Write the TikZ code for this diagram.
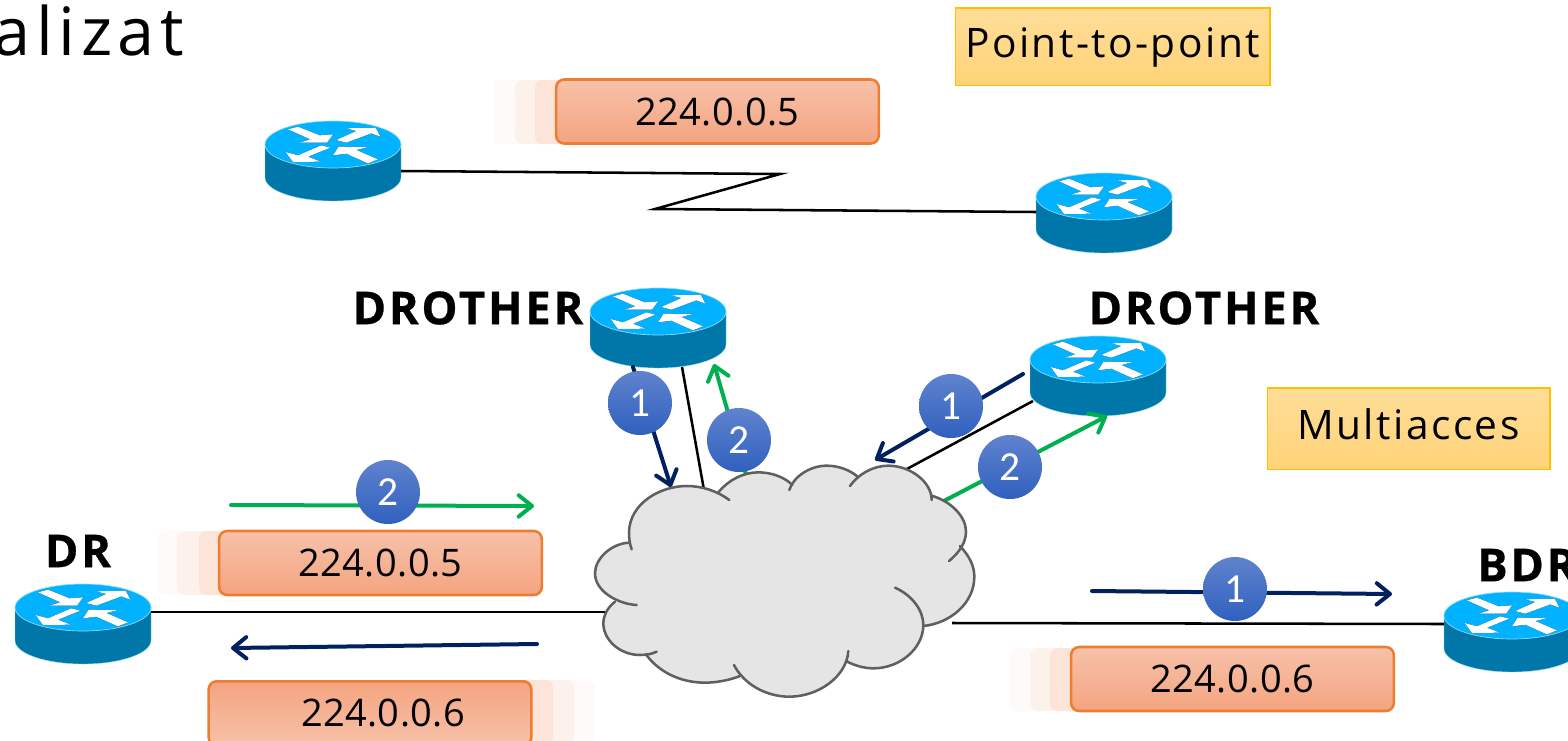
\documentclass[tikz,border=0pt]{standalone}
\usepackage{fontspec}
\setmainfont[LetterSpace=1]{Open Sans}
\newfontfamily\headfont[LetterSpace=6,BoldFeatures={FakeBold=.6}]{Open Sans}
\newfontfamily\titlefont[LetterSpace=8.5]{Open Sans}
\newfontfamily\modefont[LetterSpace=6]{Open Sans}
\newfontfamily\badgefont{Carlito}
\usetikzlibrary{arrows.meta}
\definecolor{rtop}{HTML}{00B2FF}
\definecolor{rbody}{HTML}{0077A8}
\definecolor{rrim}{HTML}{8FDCF5}
\definecolor{navyline}{HTML}{002060}
\definecolor{greenline}{HTML}{00B050}
\definecolor{orangeedge}{HTML}{ED7D31}
\definecolor{orangelight}{HTML}{F7C1A9}
\definecolor{orangedark}{HTML}{F4A480}
\definecolor{yellowedge}{HTML}{FFC000}
\definecolor{yellowtop}{HTML}{FFDD99}
\definecolor{yellowbot}{HTML}{FFD478}
\definecolor{badgetop}{HTML}{5F83CE}
\definecolor{badgebot}{HTML}{3060BE}
\definecolor{cloudfill}{HTML}{E5E5E5}
\definecolor{cloudedge}{HTML}{5F5F5F}
\tikzset{
  router/.style={inner sep=0pt,outer sep=0pt,minimum width=103pt,minimum height=61pt,
    path picture={
      \fill[rbody,draw=rrim,line width=.3pt] (-68,-16.5) -- (-68,16.5) arc[start angle=180,end angle=360,x radius=68,y radius=-23.5] -- (68,-16.5) -- cycle;
      \fill[rtop,draw=rrim,line width=.5pt] (0,-16.5) ellipse[x radius=68,y radius=23.5];
      \begin{scope}[x=.25pt,y=-.25pt]
        \foreach \poly in {
          {(-135,-95) -- (-105,-103) -- (-40,-77) -- (0,-80) -- (-18,-55) -- (-100,-55) -- (-68,-65)},
          {(10,-63) -- (70,-90) -- (40,-98) -- (128,-100) -- (142,-73) -- (115,-83) -- (40,-55)},
          {(-35,-47) -- (-8,-40) -- (-75,-13) -- (-37,2) -- (-120,3) -- (-142,-27) -- (-105,-17)},
          {(0,-17) -- (17,-43) -- (105,-42) -- (70,-33) -- (135,-5) -- (105,7) -- (40,-22)}}{
          \fill[black,yshift=.7pt,xshift=-.2pt] \poly -- cycle;
          \fill[white] \poly -- cycle;
        }
      \end{scope}
    }},
  link/.style={draw=black,line width=1.9pt},
  navyarrow/.style={draw=navyline,line width=3pt,line cap=round,-{Straight Barb[length=10pt,width=16pt,line width=3pt,round]}},
  greenarrow/.style={draw=greenline,line width=3pt,line cap=round,-{Straight Barb[length=10pt,width=16pt,line width=3pt,round]}},
  addrbox/.style={draw=orangeedge,line width=1.9pt,rounded corners=6pt,minimum width=242pt,minimum height=48pt,inner sep=0pt,
    top color=orangelight,bottom color=orangedark,font=\fontsize{28.5}{32}\selectfont,text=black},
  addrboxflip/.style={addrbox,top color=orangedark,bottom color=orangelight},
  ghost/.style={fill=orangedark,rounded corners=6pt},
  modebox/.style={draw=yellowedge,line width=1pt,inner sep=0pt,top color=yellowtop,bottom color=yellowbot,
    font=\modefont\fontsize{30.5}{34}\selectfont,text=black},
  badge/.style={circle,minimum size=48pt,inner sep=0pt,top color=badgetop,bottom color=badgebot,
    text=white,font=\badgefont\fontsize{31}{34}\selectfont},
  rolelabel/.style={inner sep=0pt,font=\headfont\bfseries\fontsize{34}{38}\selectfont,text=black},
  cloudline/.style={draw=cloudedge,line width=1.9pt,line cap=round}
}
\def\cloudA{(170,435) .. controls (115,432) and (45,395) .. (45,340) .. controls (45,295) and (95,250) .. (148,248)}
\def\cloudB{(155,268) .. controls (148,250) and (147,230) .. (147,215) .. controls (150,130) and (240,78) .. (320,78) .. controls (365,78) and (410,92) .. (448,120)}
\def\cloudC{(415,97) .. controls (445,60) and (490,37) .. (535,37) .. controls (575,37) and (615,52) .. (637,75)}
\def\cloudD{(628,90) .. controls (640,50) and (690,17) .. (740,17) .. controls (775,17) and (810,30) .. (833,50)}
\def\cloudE{(810,78) .. controls (835,42) and (880,17) .. (925,17) .. controls (990,17) and (1055,65) .. (1055,120)}
\def\cloudF{(1055,107) .. controls (1115,125) and (1158,170) .. (1158,215) .. controls (1158,250) and (1135,280) .. (1107,303)}
\def\cloudG{(1140,258) .. controls (1170,290) and (1183,320) .. (1183,350) .. controls (1183,430) and (1110,490) .. (1030,498)}
\def\cloudH{(945,383) .. controls (995,405) and (1030,450) .. (1030,495) .. controls (1030,565) and (960,625) .. (880,625) .. controls (850,625) and (820,615) .. (798,603)}
\def\cloudI{(805,573) .. controls (800,650) and (715,710) .. (628,710) .. controls (555,710) and (490,670) .. (462,615)}
\def\cloudJ{(480,648) .. controls (450,660) and (410,668) .. (375,668) .. controls (300,668) and (235,635) .. (197,582)}
\def\cloudK{(230,575) .. controls (215,582) and (200,585) .. (180,585) .. controls (120,585) and (70,540) .. (70,490) .. controls (70,465) and (85,440) .. (105,425)}
\begin{document}
\begin{tikzpicture}[x=.75pt,y=-.75pt]
\useasboundingbox (0,0) rectangle (1568,740);

% title fragment
\node[anchor=base west,inner sep=0pt,font=\titlefont\fontsize{50}{60}\selectfont] (title) at (-7,55) {alizat};

% ghost trails
\fill[ghost,opacity=.05] (494,80) rectangle (600,144);
\fill[ghost,opacity=.10] (515,80) rectangle (600,144);
\fill[ghost,opacity=.18] (535,80) rectangle (600,144);
\fill[ghost,opacity=.05] (157,531) rectangle (260,595);
\fill[ghost,opacity=.10] (177,531) rectangle (260,595);
\fill[ghost,opacity=.18] (199,531) rectangle (260,595);
\fill[ghost,opacity=.05] (490,680) rectangle (595,745);
\fill[ghost,opacity=.10] (490,680) rectangle (574,745);
\fill[ghost,opacity=.18] (490,680) rectangle (553,745);
\fill[ghost,opacity=.05] (1009,648) rectangle (1110,711);
\fill[ghost,opacity=.10] (1030,648) rectangle (1110,711);
\fill[ghost,opacity=.18] (1050,648) rectangle (1110,711);

% routers
\node[router] (r1) at (333,161) {};
\node[router] (r2) at (1104,213) {};
\node[router] (dro1) at (658,328) {};
\node[router] (dro2) at (1098,376) {};
\node[router] (dr) at (83,624) {};
\node[router] (bdr) at (1512,632) {};

% ports
\coordinate (r1p) at (401,171);
\coordinate (z1) at (780,174);
\coordinate (z2) at (655,209);
\coordinate (r2p) at (1036,212);
\coordinate (drp) at (151,612);
\coordinate (cl) at (610,612);
\coordinate (bdrp) at (1444,624);
\coordinate (cr) at (952,623);
\coordinate (dro1p) at (682,367);
\coordinate (ct1) at (704,490);
\coordinate (dro2p) at (1033,401);
\coordinate (ct2) at (905,470);

% links
\draw[link,line join=miter] (r1p) -- (z1) -- (z2) -- (r2p);
\draw[link] (drp) -- (cl);
\draw[link] (cr) -- (bdrp);
\draw[link] (dro1p) -- (ct1);
\draw[link] (dro2p) -- (ct2);

% arrows
\coordinate (a1s) at (633,367);
\coordinate (a1e) at (671,487);
\coordinate (a2s) at (747,478);
\coordinate (a2e) at (714,364);
\coordinate (a3s) at (1023,374);
\coordinate (a3e) at (875,460);
\coordinate (a4s) at (940,503);
\coordinate (a4e) at (1107,416);
\coordinate (a5s) at (231,505);
\coordinate (a5e) at (534,506);
\coordinate (a6s) at (537,644);
\coordinate (a6e) at (231,648);
\coordinate (a7s) at (1092,591);
\coordinate (a7e) at (1392,594);
\draw[navyarrow] (a1s) -- (a1e);
\draw[greenarrow] (a2s) -- (a2e);
\draw[navyarrow] (a3s) -- (a3e);
\draw[greenarrow] (a4s) -- (a4e);
\draw[greenarrow] (a5s) -- (a5e);
\draw[navyarrow] (a6s) -- (a6e);
\draw[navyarrow] (a7s) -- (a7e);

% cloud
\begin{scope}[shift={(580,460)},x=.25pt,y=-.25pt]
\fill[cloudfill] \cloudA -- \cloudB -- \cloudC -- \cloudD -- \cloudE -- \cloudF -- \cloudG -- (1030,498) -- (880,625) -- \cloudI -- \cloudJ -- \cloudK -- cycle;
\fill[cloudfill] (880,625) .. controls (850,625) and (820,615) .. (798,603) .. controls (850,500) and (950,450) .. (1030,495) .. controls (1030,565) and (960,625) .. (880,625) -- cycle;
\draw[cloudline] \cloudA;
\draw[cloudline] \cloudB;
\draw[cloudline] \cloudC;
\draw[cloudline] \cloudD;
\draw[cloudline] \cloudE;
\draw[cloudline] \cloudF;
\draw[cloudline] \cloudG;
\draw[cloudline] \cloudH;
\draw[cloudline] \cloudI;
\draw[cloudline] \cloudJ;
\draw[cloudline] \cloudK;
\end{scope}

% address boxes
\node[addrbox] (b1) at (717.5,111.5) {224.0.0.5};
\node[addrbox] (b2) at (380.5,563) {224.0.0.5};
\node[addrboxflip,anchor=north] (b3) at (370,680) {};
\node[inner sep=0pt,font=\fontsize{28.5}{32}\selectfont] (b3t) at (383,713) {224.0.0.6};
\node[addrbox] (b4) at (1232.5,679) {224.0.0.6};

% mode boxes
\node[modebox,minimum width=236pt,minimum height=58pt,text height=24pt,text depth=8.2pt] (m1) at (1112.5,46.5) {Point-to-point};
\node[modebox,minimum width=212pt,minimum height=61pt,text height=24pt,text depth=6.8pt] (m2) at (1408.5,428.5) {Multiacces};

% badges
\node[badge] (c1) at (640,403) {1};
\node[badge] (c2) at (739,440) {2};
\node[badge] (c3) at (951,406) {1};
\node[badge] (c4) at (1010,467) {2};
\node[badge] (c5) at (388,492) {2};
\node[badge] (c6) at (1235,589) {1};

% role labels
\node[rolelabel] (l1) at (468,308) {DROTHER};
\node[rolelabel] (l2) at (1204,308) {DROTHER};
\node[rolelabel] (l3) at (78,551) {DR};
\node[rolelabel,anchor=west] (l4) at (1477,565) {BDR};
\end{tikzpicture}
\end{document}
